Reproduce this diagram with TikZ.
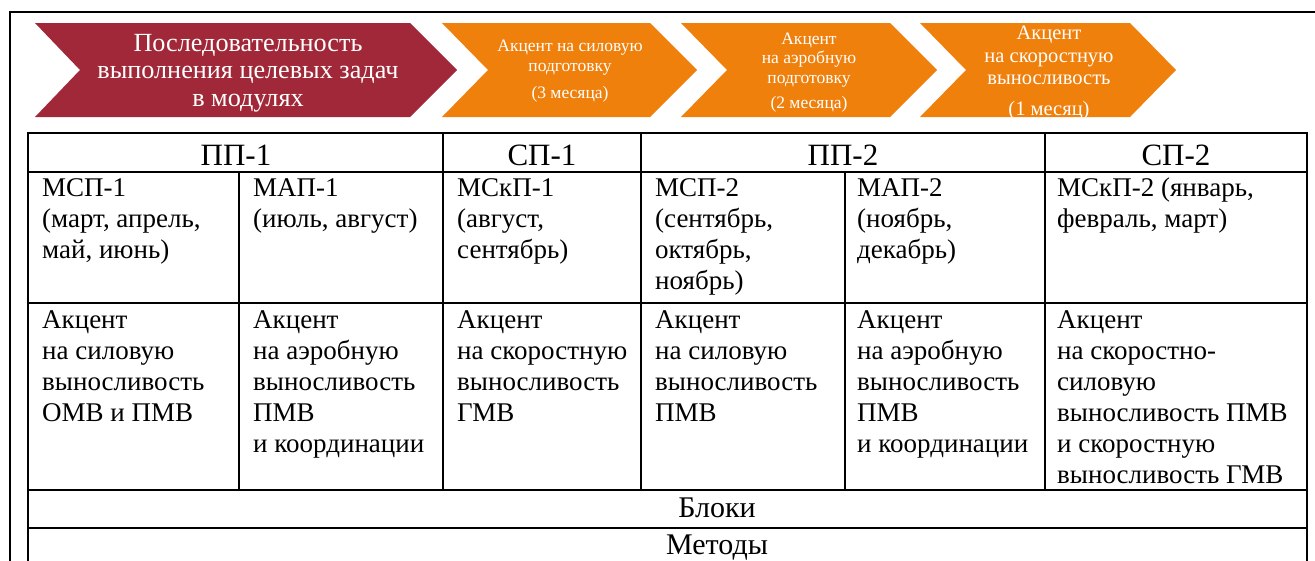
\documentclass[tikz,border=0pt]{standalone}
\usepackage{fontspec}
\setmainfont{Liberation Serif}
\definecolor{chevred}{RGB}{161,40,56}
\definecolor{chevorange}{RGB}{240,128,12}
\begin{document}
\begin{tikzpicture}[x=1pt,y=-1pt,
  chevtext/.style={text=white, align=center, inner sep=0pt},
  cell/.style={anchor=north west, align=left, inner sep=0pt, font=\fontsize{27}{31}\selectfont},
  head/.style={inner sep=0pt, font=\fontsize{31}{36}\selectfont},
  foot/.style={anchor=base, inner sep=0pt, font=\fontsize{30}{34}\selectfont},
  grid/.style={line width=1.6pt},
  frame/.style={line width=2pt},
]
\useasboundingbox (0,0) rectangle (1315,560);
\clip (0,0) rectangle (1315,560);

% outer frame
\draw[frame] (10,12) rectangle (1340,600);

% chevrons
\fill[chevred] (35,23) -- (410,23) -- (457,70) -- (410,117) -- (35,117) -- (80,70) -- cycle;
\fill[chevorange] (442,23) -- (650,23) -- (697,70) -- (650,117) -- (442,117) -- (488,70) -- cycle;
\fill[chevorange] (681,23) -- (890,23) -- (937,70) -- (890,117) -- (681,117) -- (727,70) -- cycle;
\fill[chevorange] (920,23) -- (1130,23) -- (1176,70) -- (1130,117) -- (920,117) -- (966,70) -- cycle;

\node[chevtext, font=\fontsize{26.2}{27.5}\selectfont] (c0) at (248,73) {Последовательность\\выполнения целевых задач\\в модулях};
\node[chevtext, font=\fontsize{17.5}{19.5}\selectfont] (c1) at (570,71.5) {Акцент на силовую\\подготовку\\[8pt](3 месяца)};
\node[chevtext, font=\fontsize{17.5}{19.5}\selectfont] (c2) at (809,72.5) {Акцент\\на аэробную\\подготовку\\[6pt](2 месяца)};
\node[chevtext, font=\fontsize{20.5}{22.5}\selectfont] (c3) at (1049,73) {Акцент\\на скоростную\\выносливость\\[8pt](1 месяц)};

% table grid
\draw[grid] (28,133) rectangle (1307,566);
\draw[grid] (28,172) -- (1307,172);
\draw[grid] (28,303) -- (1307,303);
\draw[grid] (28,490) -- (1307,490);
\draw[grid] (28,528) -- (1307,528);
\draw[grid] (443,133) -- (443,490);
\draw[grid] (641,133) -- (641,490);
\draw[grid] (1045,133) -- (1045,490);
\draw[grid] (239,172) -- (239,490);
\draw[grid] (845,172) -- (845,490);

% header
\node[head] (h1) at (236,155) {ПП-1};
\node[head] (h2) at (542,155) {СП-1};
\node[head] (h3) at (843,155) {ПП-2};
\node[head] (h4) at (1176,155) {СП-2};

% module row
\node[cell] (m1) at (42,178) {МСП-1\\(март, апрель,\\май, июнь)};
\node[cell] (m2) at (253,178) {МАП-1\\(июль, август)};
\node[cell] (m3) at (457,178) {МСкП-1\\(август,\\сентябрь)};
\node[cell] (m4) at (655,178) {МСП-2\\(сентябрь,\\октябрь,\\ноябрь)};
\node[cell] (m5) at (857,178) {МАП-2\\(ноябрь,\\декабрь)};
\node[cell] (m6) at (1057,178) {МСкП-2 (январь,\\февраль, март)};

% accent row
\node[cell] (a1) at (42,310) {Акцент\\на силовую\\выносливость\\ОМВ и ПМВ};
\node[cell] (a2) at (253,310) {Акцент\\на аэробную\\выносливость\\ПМВ\\и координации};
\node[cell] (a3) at (457,310) {Акцент\\на скоростную\\выносливость\\ГМВ};
\node[cell] (a4) at (655,310) {Акцент\\на силовую\\выносливость\\ПМВ};
\node[cell] (a5) at (857,310) {Акцент\\на аэробную\\выносливость\\ПМВ\\и координации};
\node[cell] (a6) at (1057,310) {Акцент\\на скоростно-\\силовую\\выносливость ПМВ\\и скоростную\\выносливость ГМВ};

% bottom rows
\node[foot] (b1) at (717,517) {Блоки};
\node[foot] (b2) at (717,554) {Методы};
\end{tikzpicture}
\end{document}
